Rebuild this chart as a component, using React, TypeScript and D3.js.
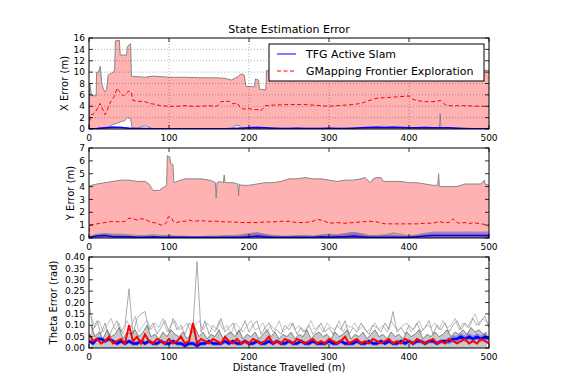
import React from 'react';
import * as d3 from 'd3';

// distance axis ticks (m)
const distTicks = [0, 100, 200, 300, 400, 500];
const xErrTicks = [0, 2, 4, 6, 8, 10, 12, 14, 16];
const yErrTicks = [0, 1, 2, 3, 4, 5, 6, 7];
const thetaTicks = [0, 0.05, 0.1, 0.15, 0.2, 0.25, 0.3, 0.35, 0.4];

// ---- X error: GMapping band upper / lower edge and mean, [distance, m]
const gmXUpper: [number, number][] = [
  [0, 0], [1, 8], [3, 5.9], [9, 5.8], [9.5, 10], [12, 10], [14, 11], [16, 8], [18, 7], [20, 6.5],
  [22, 7], [24, 9.5], [28, 9.8], [32, 10.2], [33, 15.5], [38, 15.6], [39, 13], [47, 13], [48, 14.5],
  [52, 15], [53, 9.3], [60, 9.2], [70, 9.1], [80, 9.3], [90, 9.2], [100, 9.1], [120, 9.1], [140, 9.0],
  [160, 9.0], [170, 8.9], [178, 8.6], [186, 9.2], [190, 9.7], [194, 9.5], [196, 7.5], [207, 7.4],
  [208, 8.8], [212, 8.6], [213, 7.0], [221, 6.9], [222, 10.3], [260, 10.3], [300, 10.4], [350, 10.4],
  [400, 10.3], [450, 10.4], [500, 10.3],
];
const gmXLower: [number, number][] = [
  [0, 0], [25, 0], [27, 0.5], [30, 0.8], [35, 1.0], [40, 1.3], [45, 1.5], [48, 2.0], [52, 1.8],
  [54, 0.2], [60, 0], [65, 0.4], [70, 0.6], [75, 0.3], [80, 0], [180, 0], [182, 0.6], [188, 0.6],
  [190, 0], [438, 0], [439, 2.7], [440, 0], [500, 0],
];
const gmXMean: [number, number][] = [
  [0, 0.3], [2, 2.5], [5, 2.6], [8, 3.0], [12, 4.0], [14, 4.5], [16, 3.8], [18, 3.2], [20, 2.5],
  [22, 3.0], [25, 4.2], [28, 5.0], [32, 5.8], [35, 7.2], [37, 6.8], [40, 6.3], [43, 5.8], [46, 6.2],
  [50, 6.7], [53, 6.4], [55, 5.0], [60, 4.9], [70, 4.8], [75, 4.5], [80, 4.4], [90, 4.1], [100, 4.0],
  [110, 4.0], [120, 4.1], [130, 4.0], [140, 4.0], [150, 4.1], [160, 4.0], [165, 4.8], [175, 4.9],
  [180, 4.4], [185, 4.6], [190, 3.6], [195, 3.5], [200, 3.6], [205, 3.4], [212, 3.4], [215, 3.2],
  [220, 4.1], [230, 4.2], [250, 4.3], [270, 4.3], [290, 4.1], [300, 4.0], [310, 4.1], [330, 4.3],
  [340, 4.5], [350, 5.0], [360, 5.4], [370, 5.5], [380, 5.6], [390, 5.7], [400, 5.8], [405, 5.2],
  [410, 5.0], [420, 4.8], [430, 4.8], [440, 5.0], [445, 4.3], [450, 4.1], [470, 4.1], [490, 4.0],
  [500, 4.0],
];
// TFG X error, every 10 m
const tfgXErr = [0.05, 0.1, 0.2, 0.3, 0.25, 0.15, 0.1, 0.1, 0.05, 0.05, 0.05, 0.05, 0.05, 0.05, 0.05, 0.05, 0.05, 0.05, 0.1, 0.15,
  0.2, 0.25, 0.2, 0.15, 0.1, 0.1, 0.15, 0.1, 0.1, 0.1, 0.15, 0.1, 0.1, 0.15, 0.2, 0.25, 0.3, 0.25, 0.3, 0.25,
  0.2, 0.2, 0.25, 0.2, 0.2, 0.2, 0.15, 0.1, 0.05, 0.05, 0.05];
const tfgXStd = [0.05, 0.1, 0.15, 0.2, 0.2, 0.15, 0.1, 0.1, 0.05, 0.05, 0.05, 0.05, 0.05, 0.05, 0.05, 0.05, 0.05, 0.05, 0.1, 0.1,
  0.15, 0.2, 0.15, 0.1, 0.1, 0.1, 0.1, 0.1, 0.1, 0.1, 0.1, 0.1, 0.1, 0.1, 0.15, 0.15, 0.2, 0.15, 0.2, 0.15,
  0.15, 0.1, 0.15, 0.1, 0.1, 0.1, 0.1, 0.05, 0.05, 0.05, 0.05];

// ---- Y error
const gmYUpper: [number, number][] = [
  [0, 4.0], [3, 4.1], [10, 4.2], [20, 4.3], [30, 4.4], [40, 4.5], [50, 4.5], [60, 4.4], [70, 4.4],
  [75, 4.2], [78, 3.9], [80, 3.7], [88, 3.7], [92, 3.9], [95, 4.0], [97, 4.1], [98, 6.4], [101, 6.3],
  [102, 5.8], [105, 5.7], [106, 4.3], [110, 4.4], [115, 4.5], [120, 4.6], [140, 4.6], [150, 4.5],
  [155, 4.4], [158, 4.3], [159, 3.1], [160, 4.3], [163, 4.4], [168, 4.3], [169, 4.9], [170, 4.3],
  [180, 4.3], [186, 4.2], [187, 3.3], [188, 4.2], [190, 4.1], [200, 4.1], [210, 4.2], [220, 4.3],
  [230, 4.3], [240, 4.4], [250, 4.6], [260, 4.6], [270, 4.7], [280, 4.6], [290, 4.6], [300, 4.5],
  [310, 4.4], [320, 4.5], [330, 4.5], [340, 4.6], [345, 4.7], [350, 4.4], [352, 4.3], [355, 4.6],
  [360, 4.7], [365, 4.7], [368, 4.4], [380, 4.4], [390, 4.4], [400, 4.3], [410, 4.3], [420, 4.2],
  [430, 4.1], [436, 4.1], [437, 5.0], [438, 4.0], [450, 4.0], [460, 4.0], [465, 4.1], [470, 4.2],
  [490, 4.2], [494, 4.5], [495, 4.2], [500, 4.1],
];
const gmYMean: [number, number][] = [
  [0, 0.5], [1, 1.0], [5, 1.05], [10, 1.1], [20, 1.2], [30, 1.3], [40, 1.25], [45, 1.3], [50, 1.55],
  [55, 1.5], [60, 1.4], [65, 1.5], [70, 1.45], [75, 1.3], [80, 1.2], [85, 1.15], [90, 1.0], [95, 1.1],
  [97, 1.2], [99, 1.65], [103, 1.6], [105, 1.3], [110, 1.2], [115, 1.3], [120, 1.3], [125, 1.4],
  [130, 1.3], [140, 1.35], [150, 1.3], [160, 1.3], [170, 1.25], [180, 1.25], [190, 1.2], [200, 1.2],
  [210, 1.2], [220, 1.25], [230, 1.25], [240, 1.3], [250, 1.3], [260, 1.2], [270, 1.2], [280, 1.3],
  [285, 1.45], [290, 1.4], [295, 1.3], [300, 1.15], [310, 1.2], [320, 1.15], [330, 1.2], [340, 1.25],
  [350, 1.3], [360, 1.25], [370, 1.1], [380, 1.1], [390, 1.1], [400, 1.1], [410, 1.1], [420, 1.15],
  [430, 1.15], [438, 1.3], [442, 1.2], [450, 1.2], [455, 1.5], [458, 1.3], [462, 1.15], [470, 1.2],
  [475, 1.1], [480, 1.2], [490, 1.1], [500, 1.0],
];
// every 10 m
const gmYLower = [0.1, 0.3, 0.35, 0.3, 0.3, 0.25, 0.2, 0.2, 0.25, 0.2, 0.2, 0.15, 0.15, 0.1, 0.1, 0.15, 0.15, 0.2, 0.2, 0.25,
  0.35, 0.4, 0.3, 0.2, 0.15, 0.15, 0.2, 0.2, 0.15, 0.25, 0.3, 0.25, 0.35, 0.45, 0.35, 0.2, 0.2, 0.25, 0.4, 0.3,
  0.15, 0.2, 0.3, 0.35, 0.3, 0.3, 0.3, 0.3, 0.3, 0.3, 0.3];
const tfgYErr = [0.05, 0.15, 0.2, 0.1, 0.1, 0.1, 0.05, 0.05, 0.1, 0.05, 0.05, 0.05, 0.05, 0.05, 0.05, 0.05, 0.05, 0.05, 0.05, 0.05,
  0.1, 0.15, 0.1, 0.05, 0.05, 0.05, 0.05, 0.05, 0.05, 0.1, 0.05, 0.1, 0.1, 0.15, 0.1, 0.05, 0.05, 0.05, 0.05, 0.05,
  0.05, 0.1, 0.15, 0.2, 0.2, 0.2, 0.2, 0.2, 0.2, 0.2, 0.2];
const tfgYStd = [0.05, 0.15, 0.15, 0.2, 0.15, 0.1, 0.1, 0.1, 0.1, 0.1, 0.1, 0.1, 0.05, 0.05, 0.05, 0.05, 0.05, 0.1, 0.1, 0.15,
  0.25, 0.3, 0.2, 0.15, 0.1, 0.1, 0.15, 0.15, 0.1, 0.15, 0.2, 0.2, 0.25, 0.3, 0.25, 0.15, 0.15, 0.2, 0.2, 0.15,
  0.15, 0.2, 0.25, 0.3, 0.3, 0.3, 0.3, 0.3, 0.3, 0.3, 0.3];

// ---- Theta error, every 5 m (greys B and C sit on the half steps)
const thetaGreyA = [0.20, 0.08, 0.12, 0.06, 0.11, 0.05, 0.09, 0.12, 0.07, 0.10, 0.26, 0.06, 0.13, 0.15, 0.16, 0.08, 0.11, 0.06, 0.09, 0.12,
  0.07, 0.13, 0.08, 0.10, 0.06, 0.11, 0.09, 0.38, 0.07, 0.12, 0.06, 0.10, 0.08, 0.13, 0.07, 0.09, 0.11, 0.06, 0.08, 0.12,
  0.07, 0.10, 0.12, 0.06, 0.09, 0.11, 0.07, 0.08, 0.06, 0.10, 0.08, 0.11, 0.06, 0.09, 0.07, 0.10, 0.06, 0.08, 0.11, 0.07,
  0.09, 0.06, 0.10, 0.08, 0.12, 0.06, 0.09, 0.07, 0.11, 0.08, 0.06, 0.10, 0.09, 0.07, 0.11, 0.08, 0.16, 0.07, 0.09, 0.06,
  0.10, 0.08, 0.11, 0.07, 0.09, 0.12, 0.06, 0.10, 0.08, 0.11, 0.07, 0.10, 0.12, 0.08, 0.11, 0.09, 0.13, 0.10, 0.12, 0.14, 0.09];
const thetaGreyB = [0.10, 0.05, 0.07, 0.04, 0.08, 0.05, 0.06, 0.09, 0.04, 0.07, 0.06, 0.08, 0.05, 0.07, 0.10, 0.05, 0.06, 0.04, 0.07, 0.05,
  0.08, 0.06, 0.05, 0.07, 0.04, 0.06, 0.09, 0.05, 0.07, 0.04, 0.06, 0.05, 0.08, 0.04, 0.06, 0.07, 0.05, 0.08, 0.04, 0.06,
  0.05, 0.07, 0.04, 0.06, 0.08, 0.05, 0.07, 0.04, 0.06, 0.05, 0.07, 0.04, 0.06, 0.05, 0.08, 0.04, 0.06, 0.07, 0.05, 0.06,
  0.04, 0.07, 0.05, 0.06, 0.08, 0.04, 0.06, 0.05, 0.07, 0.04, 0.06, 0.08, 0.05, 0.06, 0.04, 0.07, 0.05, 0.06, 0.04, 0.07,
  0.05, 0.06, 0.08, 0.04, 0.06, 0.05, 0.07, 0.05, 0.06, 0.08, 0.05, 0.07, 0.06, 0.08, 0.06, 0.09, 0.07, 0.08, 0.06, 0.07];
const thetaGreyC = [0.14, 0.09, 0.12, 0.07, 0.10, 0.13, 0.08, 0.11, 0.06, 0.12, 0.09, 0.14, 0.07, 0.10, 0.12, 0.08, 0.11, 0.09, 0.13, 0.07,
  0.10, 0.12, 0.08, 0.09, 0.11, 0.07, 0.10, 0.12, 0.08, 0.11, 0.09, 0.07, 0.12, 0.08, 0.10, 0.06, 0.11, 0.09, 0.07, 0.10,
  0.12, 0.08, 0.09, 0.11, 0.07, 0.10, 0.08, 0.12, 0.07, 0.09, 0.11, 0.08, 0.10, 0.07, 0.09, 0.12, 0.08, 0.10, 0.07, 0.11,
  0.09, 0.08, 0.12, 0.07, 0.10, 0.09, 0.11, 0.08, 0.10, 0.07, 0.09, 0.11, 0.08, 0.10, 0.07, 0.12, 0.09, 0.08, 0.10, 0.11,
  0.07, 0.09, 0.12, 0.08, 0.10, 0.09, 0.11, 0.08, 0.12, 0.09, 0.10, 0.13, 0.08, 0.11, 0.09, 0.12, 0.15, 0.10, 0.13, 0.11];
const thetaGm = [0.06, 0.03, 0.04, 0.02, 0.03, 0.05, 0.02, 0.03, 0.04, 0.02, 0.10, 0.03, 0.05, 0.02, 0.06, 0.03, 0.02, 0.04, 0.03, 0.02,
  0.04, 0.02, 0.03, 0.05, 0.02, 0.03, 0.11, 0.02, 0.04, 0.03, 0.02, 0.04, 0.03, 0.02, 0.05, 0.03, 0.02, 0.04, 0.02, 0.03,
  0.02, 0.04, 0.03, 0.02, 0.03, 0.05, 0.02, 0.03, 0.02, 0.04, 0.03, 0.02, 0.04, 0.03, 0.02, 0.03, 0.04, 0.02, 0.03, 0.02,
  0.04, 0.03, 0.02, 0.03, 0.05, 0.02, 0.03, 0.04, 0.02, 0.03, 0.02, 0.04, 0.03, 0.02, 0.03, 0.04, 0.02, 0.03, 0.02, 0.04,
  0.03, 0.02, 0.04, 0.03, 0.02, 0.03, 0.04, 0.02, 0.03, 0.02, 0.04, 0.03, 0.02, 0.03, 0.04, 0.02, 0.03, 0.02, 0.04, 0.03, 0.02];
const thetaTfg = [0.03, 0.02, 0.04, 0.04, 0.03, 0.04, 0.03, 0.02, 0.03, 0.02, 0.03, 0.02, 0.02, 0.03, 0.02, 0.03, 0.02, 0.02, 0.03, 0.02,
  0.02, 0.03, 0.02, 0.02, 0.01, 0.02, 0.02, 0.01, 0.02, 0.02, 0.03, 0.02, 0.02, 0.02, 0.03, 0.02, 0.03, 0.02, 0.02, 0.03,
  0.02, 0.02, 0.03, 0.02, 0.02, 0.03, 0.02, 0.03, 0.02, 0.02, 0.03, 0.02, 0.02, 0.03, 0.02, 0.02, 0.03, 0.02, 0.02, 0.02,
  0.03, 0.02, 0.02, 0.03, 0.02, 0.02, 0.02, 0.03, 0.02, 0.02, 0.03, 0.02, 0.02, 0.03, 0.02, 0.03, 0.02, 0.02, 0.03, 0.02,
  0.03, 0.02, 0.03, 0.03, 0.02, 0.03, 0.03, 0.02, 0.03, 0.03, 0.03, 0.04, 0.04, 0.05, 0.04, 0.05, 0.04, 0.05, 0.04, 0.05, 0.04];
// every 50 m
const thetaTfgStd = [0.01, 0.01, 0.01, 0.01, 0.01, 0.01, 0.01, 0.01, 0.01, 0.015, 0.015];

const legendItems = ['TFG Active Slam', 'GMapping Frontier Exploration'];

const FONT = 'DejaVu Sans, sans-serif';
const PINK = 'rgba(255,0,0,0.3)';
const BLUE = '#0000ff';
const RED = '#ff0000';
const GREY = '#888888';

const x = d3.scaleLinear().domain([0, 500]).range([89, 489]);
const every = (arr: number[], step: number, off = 0): [number, number][] => arr.map((v, i) => [off + i * step, v]);

type PanelProps = {
  top: number; bottom: number; max: number; ticks: number[]; fmt: (v: number) => string;
  label: string; labelX: number; grid?: boolean; children: (y: d3.ScaleLinear<number, number>) => React.ReactNode;
};

const Panel = ({ top, bottom, max, ticks, fmt, label, labelX, grid, children }: PanelProps) => {
  const y = d3.scaleLinear().domain([0, max]).range([bottom, top]);
  const [x0, x1] = x.range();
  const id = `clip${top}`;
  return (
    <g>
      <clipPath id={id}><rect x={x0} y={top} width={x1 - x0} height={bottom - top} /></clipPath>
      <g clipPath={`url(#${id})`}>{children(y)}</g>
      {grid && (
        <g stroke="#000" strokeWidth={0.5} strokeDasharray="1,2" opacity={0.6}>
          {distTicks.slice(1, -1).map(t => <line key={'gx' + t} x1={x(t)} x2={x(t)} y1={top} y2={bottom} />)}
          {ticks.slice(1, -1).map(t => <line key={'gy' + t} x1={x0} x2={x1} y1={y(t)} y2={y(t)} />)}
        </g>
      )}
      <rect x={x0} y={top} width={x1 - x0} height={bottom - top} fill="none" stroke="#000" strokeWidth={1} />
      <g stroke="#000" strokeWidth={0.8}>
        {distTicks.map(t => (
          <g key={'tx' + t}>
            <line x1={x(t)} x2={x(t)} y1={bottom} y2={bottom - 4} />
            <line x1={x(t)} x2={x(t)} y1={top} y2={top + 4} />
          </g>
        ))}
        {ticks.map(t => (
          <g key={'ty' + t}>
            <line x1={x0} x2={x0 + 4} y1={y(t)} y2={y(t)} />
            <line x1={x1} x2={x1 - 4} y1={y(t)} y2={y(t)} />
          </g>
        ))}
      </g>
      <g fontFamily={FONT} fontSize={9} fill="#000">
        {distTicks.map(t => (
          <text key={'lx' + t} x={x(t)} y={bottom + 12} textAnchor="middle">{t}</text>
        ))}
        {ticks.map(t => (
          <text key={'ly' + t} x={x0 - 4} y={y(t)} dy="0.35em" textAnchor="end">{fmt(t)}</text>
        ))}
      </g>
      <text transform={`translate(${labelX},${(top + bottom) / 2}) rotate(-90)`} textAnchor="middle"
        fontFamily={FONT} fontSize={10} dy="0.35em">{label}</text>
    </g>
  );
};

export default function App() {
  const mk = (y: d3.ScaleLinear<number, number>) => d3.line<[number, number]>().x(d => x(d[0])).y(d => y(d[1]));
  const mkArea = (y: d3.ScaleLinear<number, number>) =>
    d3.area<[number, number]>().x(d => x(d[0])).y0(y(0)).y1(d => y(d[1]));
  const band = (y: d3.ScaleLinear<number, number>, mean: number[], std: number[], step: number) => {
    const sd = (i: number) => std[Math.floor(i * step / (500 / (std.length - 1)))];
    return d3.area<number>().x((_, i) => x(i * step))
      .y0((d, i) => y(Math.max(0, d - sd(i)))).y1((d, i) => y(d + sd(i)))(mean) || '';
  };

  return (
    <svg width={566} height={388} style={{ position: 'absolute', left: 0, top: 0, background: '#fff' }}>
      <text x={289} y={33} textAnchor="middle" fontFamily={FONT} fontSize={11}>State Estimation Error</text>

      <Panel top={38} bottom={129} max={16} ticks={xErrTicks} fmt={v => String(v)} label="X Error (m)" labelX={64} grid>
        {y => (
          <g>
            <path d={mkArea(y)(gmXUpper) || ''} fill={PINK} />
            <path d={mkArea(y)(gmXLower) || ''} fill="#fff" />
            <path d={band(y, tfgXErr, tfgXStd, 10)} fill={BLUE} opacity={0.3} />
            <path d={mk(y)(gmXUpper) || ''} fill="none" stroke={GREY} strokeWidth={1} />
            <path d={mk(y)(gmXLower) || ''} fill="none" stroke={GREY} strokeWidth={1} />
            <path d={mk(y)(gmXMean) || ''} fill="none" stroke={RED} strokeWidth={1} strokeDasharray="4,2.5" />
            <path d={mk(y)(every(tfgXErr, 10)) || ''} fill="none" stroke={BLUE} strokeWidth={1.5} />
          </g>
        )}
      </Panel>

      <Panel top={148} bottom={238} max={7} ticks={yErrTicks} fmt={v => String(v)} label="Y Error (m)" labelX={70}>
        {y => (
          <g>
            <path d={mkArea(y)(gmYUpper) || ''} fill={PINK} />
            <path d={mkArea(y)(every(gmYLower, 10)) || ''} fill="#808080" opacity={0.35} />
            <path d={band(y, tfgYErr, tfgYStd, 10)} fill={BLUE} opacity={0.3} />
            <path d={mk(y)(gmYUpper) || ''} fill="none" stroke={GREY} strokeWidth={1} />
            <path d={mk(y)(every(gmYLower, 10)) || ''} fill="none" stroke={GREY} strokeWidth={0.8} />
            <path d={mk(y)(gmYMean) || ''} fill="none" stroke={RED} strokeWidth={1} strokeDasharray="4,2.5" />
            <path d={mk(y)(every(tfgYErr, 10)) || ''} fill="none" stroke={BLUE} strokeWidth={1.5} />
          </g>
        )}
      </Panel>

      <Panel top={257} bottom={348} max={0.4} ticks={thetaTicks} fmt={v => v.toFixed(2)} label="Theta Error (rad)" labelX={53}>
        {y => (
          <g>
            <path d={mkArea(y)(every(thetaGreyB, 5, 2.5)) || ''} fill="#606060" opacity={0.35} />
            <path d={mk(y)(every(thetaGreyC, 5, 2.5)) || ''} fill="none" stroke="#aaa" strokeWidth={1} opacity={0.7} />
            <path d={mk(y)(every(thetaGreyA, 5)) || ''} fill="none" stroke="#888" strokeWidth={1} opacity={0.7} />
            <path d={mk(y)(every(thetaGreyB, 5, 2.5)) || ''} fill="none" stroke="#444" strokeWidth={1} opacity={0.6} />
            <path d={band(y, thetaTfg, thetaTfgStd, 5)} fill={BLUE} opacity={0.3} />
            <path d={mk(y)(every(thetaTfg, 5)) || ''} fill="none" stroke={BLUE} strokeWidth={2.5} />
            <path d={mk(y)(every(thetaGm, 5)) || ''} fill="none" stroke={RED} strokeWidth={2} />
          </g>
        )}
      </Panel>

      <text x={289} y={371} textAnchor="middle" fontFamily={FONT} fontSize={10}>Distance Travelled (m)</text>

      <g>
        <rect x={269} y={44} width={215} height={37} fill="#fff" stroke="#000" strokeWidth={1} />
        {legendItems.map((name, i) => (
          <g key={name}>
            <line x1={277} x2={296} y1={54 + i * 17} y2={54 + i * 17} stroke={i === 0 ? BLUE : RED}
              strokeWidth={1} strokeDasharray={i === 0 ? undefined : '4,2.5'} />
            <text x={306} y={54 + i * 17} dy="0.35em" fontFamily={FONT} fontSize={11}>{name}</text>
          </g>
        ))}
      </g>
    </svg>
  );
}
